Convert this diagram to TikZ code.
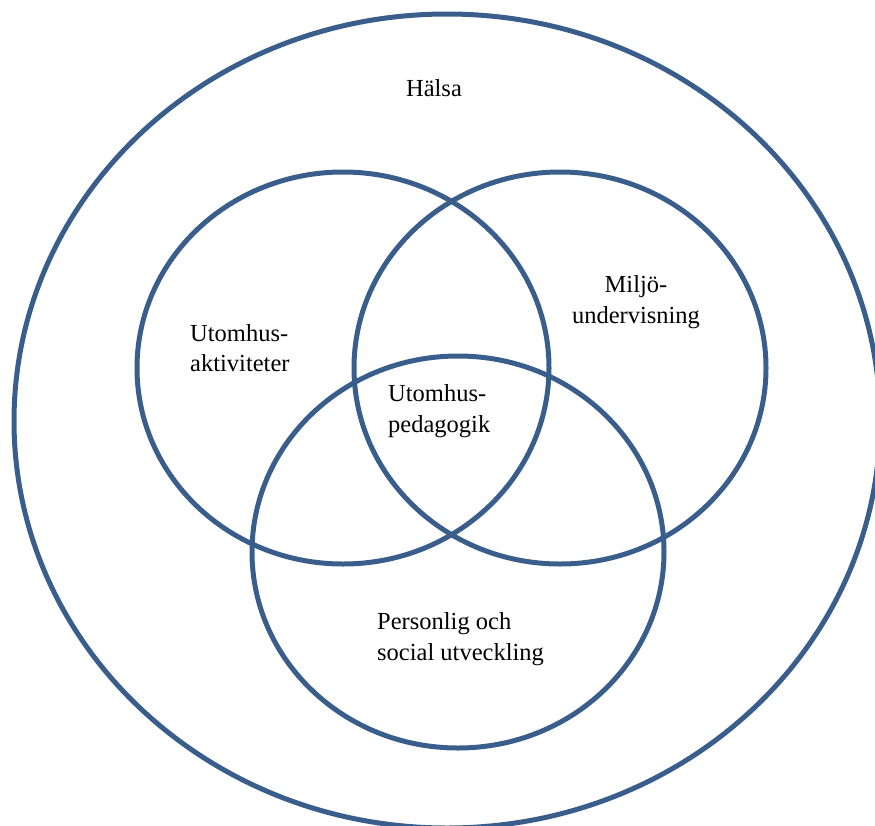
\documentclass[tikz,border=0pt]{standalone}
\usepackage{fontspec}
\setmainfont{Liberation Serif}

\definecolor{ringblue}{HTML}{3A5E8C}

\begin{document}
\begin{tikzpicture}[x=1pt, y=-1pt,
  ring/.style={draw=ringblue, line width=5pt},
  every node/.style={font=\fontsize{24.5}{30.5}\selectfont, inner sep=0pt}]

  \useasboundingbox (0,0) rectangle (875,825);

  %% Outer ring: health
  \draw[ring] (447,421) ellipse [x radius=433, y radius=407];
  \node (halsa) at (434,88) {Hälsa};

  %% Three overlapping circles
  \draw[ring] (343,368) ellipse [x radius=206, y radius=196];
  \draw[ring] (560,368) ellipse [x radius=206, y radius=196];
  \draw[ring] (458,552) ellipse [x radius=206, y radius=196];

  %% Labels
  \node[anchor=west, align=left] (aktiv) at (190,348) {Utomhus-\\aktiviteter};
  \node[align=center] (miljo) at (636,302) {Miljö-\\undervisning};
  \node[anchor=west, align=left] (pedag) at (388,411) {Utomhus-\\pedagogik};
  \node[anchor=west, align=left] (person) at (377,639) {Personlig och\\social utveckling};

\end{tikzpicture}
\end{document}
